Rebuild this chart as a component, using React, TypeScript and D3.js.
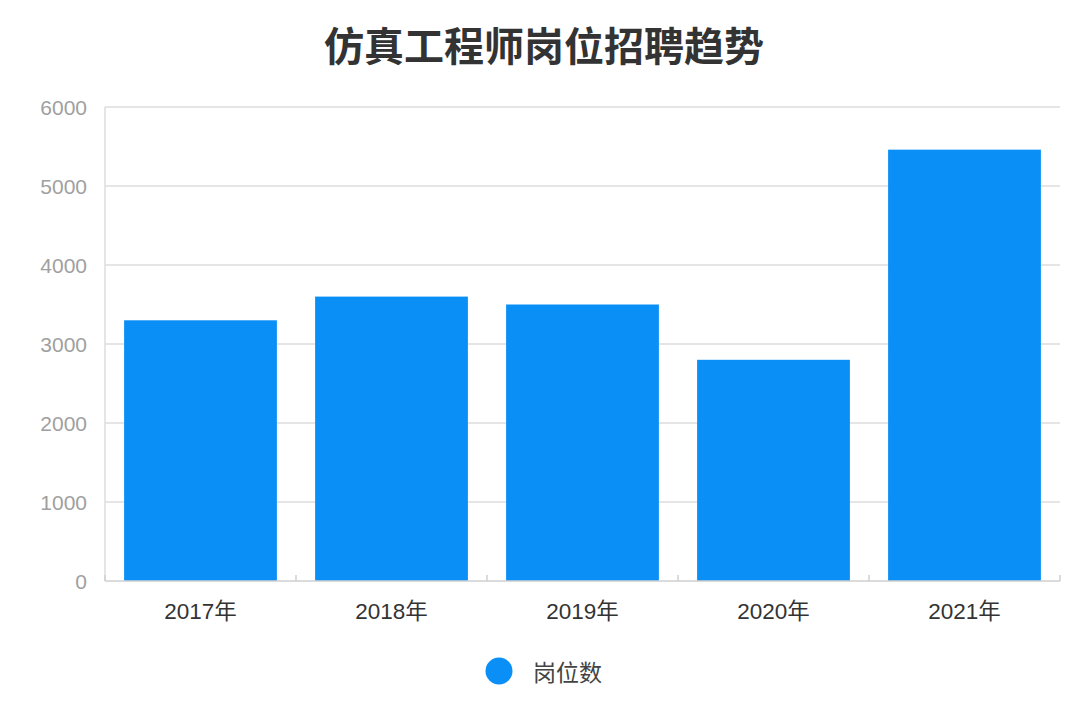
import React from "react";
import * as d3 from "d3";

const title = "仿真工程师岗位招聘趋势";
const categories = ["2017年", "2018年", "2019年", "2020年", "2021年"];
const values = [3300, 3600, 3500, 2800, 5460];
const yTicks = [0, 1000, 2000, 3000, 4000, 5000, 6000];
const seriesName = "岗位数";

const W = 1080;
const H = 705;
const margin = { left: 105, right: 20, top: 107, bottom: 124 };
const barColor = "#0a8ff6";
const font = "'Liberation Sans', 'Noto Sans CJK SC', sans-serif";

export default function App() {
  const x = d3
    .scaleBand<string>()
    .domain(categories)
    .range([margin.left, W - margin.right])
    .paddingInner(0.2)
    .paddingOuter(0.1);
  const y = d3
    .scaleLinear()
    .domain([0, 6000])
    .range([H - margin.bottom, margin.top]);
  const x0 = margin.left;
  const x1 = W - margin.right;
  const yBase = y(0);
  const boundaries = d3.range(categories.length + 1).map((i) => x0 + i * ((x1 - x0) / categories.length));

  return (
    <svg
      width={W}
      height={H}
      style={{ position: "absolute", left: 0, top: 0, background: "#fff" }}
      fontFamily={font}
    >
      <rect x={0} y={0} width={W} height={H} fill="#fff" />
      <text
        x={544}
        y={44}
        textAnchor="middle"
        dominantBaseline="central"
        fontSize={40}
        fontWeight="bold"
        fill="#333"
        fontFamily="'Noto Sans CJK SC', sans-serif"
      >
        {title}
      </text>
      {yTicks.map((t) => (
        <g key={t}>
          {t !== 0 && (
            <line x1={x0} x2={x1} y1={y(t)} y2={y(t)} stroke="#dcdcdc" strokeWidth={1.5} />
          )}
          <text
            x={87}
            y={y(t)}
            textAnchor="end"
            dominantBaseline="central"
            fontSize={21}
            fill="#a0a0a0"
          >
            {t}
          </text>
        </g>
      ))}
      <line x1={x0} x2={x0} y1={y(6000)} y2={yBase} stroke="#dcdcdc" strokeWidth={1.5} />
      {categories.map((c, i) => (
        <rect
          key={c}
          x={x(c)}
          y={y(values[i])}
          width={x.bandwidth()}
          height={yBase - y(values[i])}
          fill={barColor}
        />
      ))}
      <line x1={x0} x2={x1} y1={yBase} y2={yBase} stroke="#cfcfcf" strokeWidth={1.5} />
      {boundaries.map((b, i) => (
        <line key={i} x1={b} x2={b} y1={yBase - 6} y2={yBase} stroke="#cfcfcf" strokeWidth={1.5} />
      ))}
      {categories.map((c) => (
        <text
          key={c}
          x={(x(c) as number) + x.bandwidth() / 2}
          y={611}
          textAnchor="middle"
          dominantBaseline="central"
          fontSize={22.5}
          fill="#333"
        >
          {c}
        </text>
      ))}
      <circle cx={499} cy={671} r={13.5} fill={barColor} />
      <text x={533} y={671} dominantBaseline="central" fontSize={23} fill="#444" fontFamily="'Noto Sans CJK SC', sans-serif">
        {seriesName}
      </text>
    </svg>
  );
}
